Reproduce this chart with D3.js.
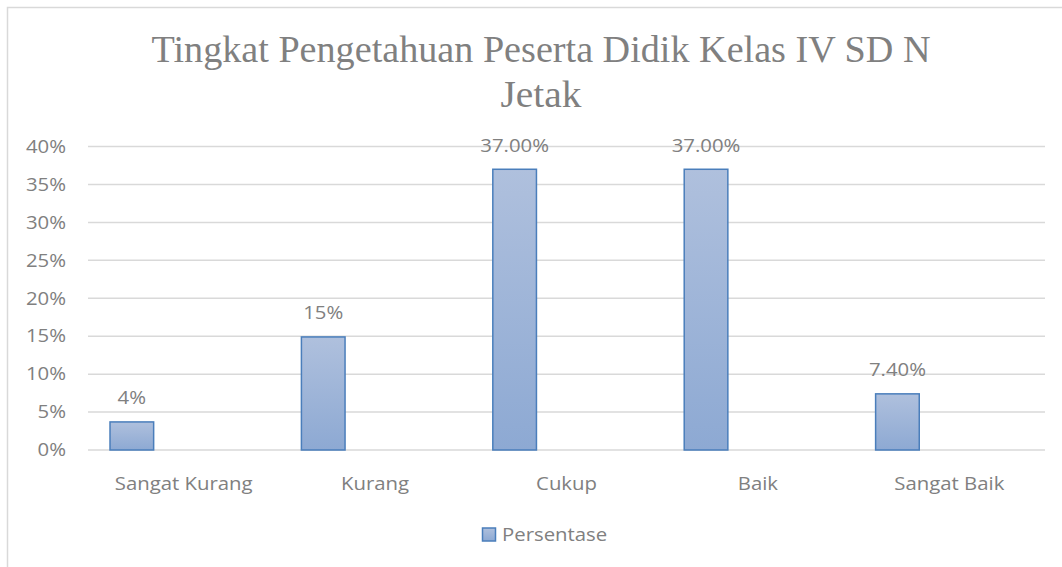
<!DOCTYPE html>
<html><head><meta charset="utf-8">
<script src="https://cdn.jsdelivr.net/npm/d3@7"></script>
<style>body{margin:0;background:#fff}svg{display:block}</style>
</head><body><svg id="c" width="1062" height="567"></svg>
<script>
const categories = ["Sangat Kurang","Kurang","Cukup","Baik","Sangat Baik"];
const values = [0.037, 0.149, 0.37, 0.37, 0.074];
const valueLabels = ["4%","15%","37.00%","37.00%","7.40%"];
const yTicks = [0,0.05,0.1,0.15,0.2,0.25,0.3,0.35,0.4];
const seriesName = "Persentase";
const titleLines = ["Tingkat Pengetahuan Peserta Didik Kelas IV SD N","Jetak"];

const svg = d3.select("#c");
const W = 1062, H = 567;
const M = {left:88, right:17, top:146.5, bottom:117};
const grey = "#808080";
const font = "'Open Sans', 'Noto Sans', sans-serif";
const stretch = 1.13;
function widen(sel){ sel.each(function(){ const L=this.getComputedTextLength(); d3.select(this).attr("textLength",L*stretch).attr("lengthAdjust","spacingAndGlyphs"); }); }

const defs = svg.append("defs");
const g = defs.append("linearGradient").attr("id","bg").attr("x1",0).attr("y1",0).attr("x2",0).attr("y2",1);
g.append("stop").attr("offset","0%").attr("stop-color","#afc0dd");
g.append("stop").attr("offset","100%").attr("stop-color","#8da9d3");

svg.append("rect").attr("x",7.5).attr("y",7.5).attr("width",1100).attr("height",600)
  .attr("fill","#fff").attr("stroke","#d9d9d9").attr("stroke-width",1.5);

// title
svg.selectAll("text.title").data(titleLines).join("text")
  .attr("class","title")
  .attr("x",541).attr("y",(d,i)=>62+i*44.7)
  .attr("text-anchor","middle")
  .attr("font-family","'Liberation Serif','Times New Roman',serif")
  .attr("font-size",38).attr("fill",grey)
  .attr("textLength",(d,i)=>i===0?779:81).attr("lengthAdjust","spacingAndGlyphs")
  .text(d=>d);

const x0 = d3.scaleBand().domain(categories).range([M.left, W - M.right]).paddingInner(0).paddingOuter(0);
const y = d3.scaleLinear().domain([0,0.4]).range([H - M.bottom, M.top]);
const bw = x0.bandwidth();
const barOff = bw*0.115, barW = bw*0.228;

// gridlines
svg.append("g").selectAll("line").data(yTicks).join("line")
  .attr("x1",M.left).attr("x2",W - M.right)
  .attr("y1",d=>y(d)).attr("y2",d=>y(d))
  .attr("stroke","#d9d9d9").attr("stroke-width",1.5);

// y axis labels
const yAxis = d3.axisLeft(y).tickValues(yTicks).tickFormat(d3.format(".0%")).tickSize(0).tickPadding(22);
const ya = svg.append("g").attr("transform",`translate(${M.left},0)`).call(yAxis);
ya.select(".domain").remove();
ya.selectAll("text").attr("font-family",font).attr("font-size",18).attr("fill",grey).call(widen);

// x axis labels
const xAxis = d3.axisBottom(x0).tickSize(0).tickPadding(0);
const xa = svg.append("g").attr("transform",`translate(0,${H - M.bottom})`).call(xAxis);
xa.select(".domain").remove();
xa.selectAll("text").attr("font-family",font).attr("font-size",18).attr("fill",grey).attr("dy",null).attr("y",40).call(widen);

// bars
svg.append("g").selectAll("rect").data(values).join("rect")
  .attr("x",(d,i)=>x0(categories[i])+barOff)
  .attr("y",d=>y(d))
  .attr("width",barW)
  .attr("height",d=>y(0)-y(d))
  .attr("fill","url(#bg)").attr("stroke","#4a7ebb").attr("stroke-width",1.5);

// value labels
svg.append("g").selectAll("text").data(values).join("text")
  .attr("x",(d,i)=>x0(categories[i])+barOff+barW/2)
  .attr("y",d=>y(d)-17.5)
  .attr("text-anchor","middle")
  .attr("font-family",font).attr("font-size",18).attr("fill",grey)
  .text((d,i)=>valueLabels[i]).call(widen);

// legend
const lg = svg.append("g");
lg.append("rect").attr("x",482.5).attr("y",528).attr("width",13).attr("height",13)
  .attr("fill","url(#bg)").attr("stroke","#4a7ebb").attr("stroke-width",1.5);
lg.append("text").attr("x",502).attr("y",541).attr("font-family",font).attr("font-size",18).attr("fill",grey).text(seriesName).call(widen);
</script></body></html>
